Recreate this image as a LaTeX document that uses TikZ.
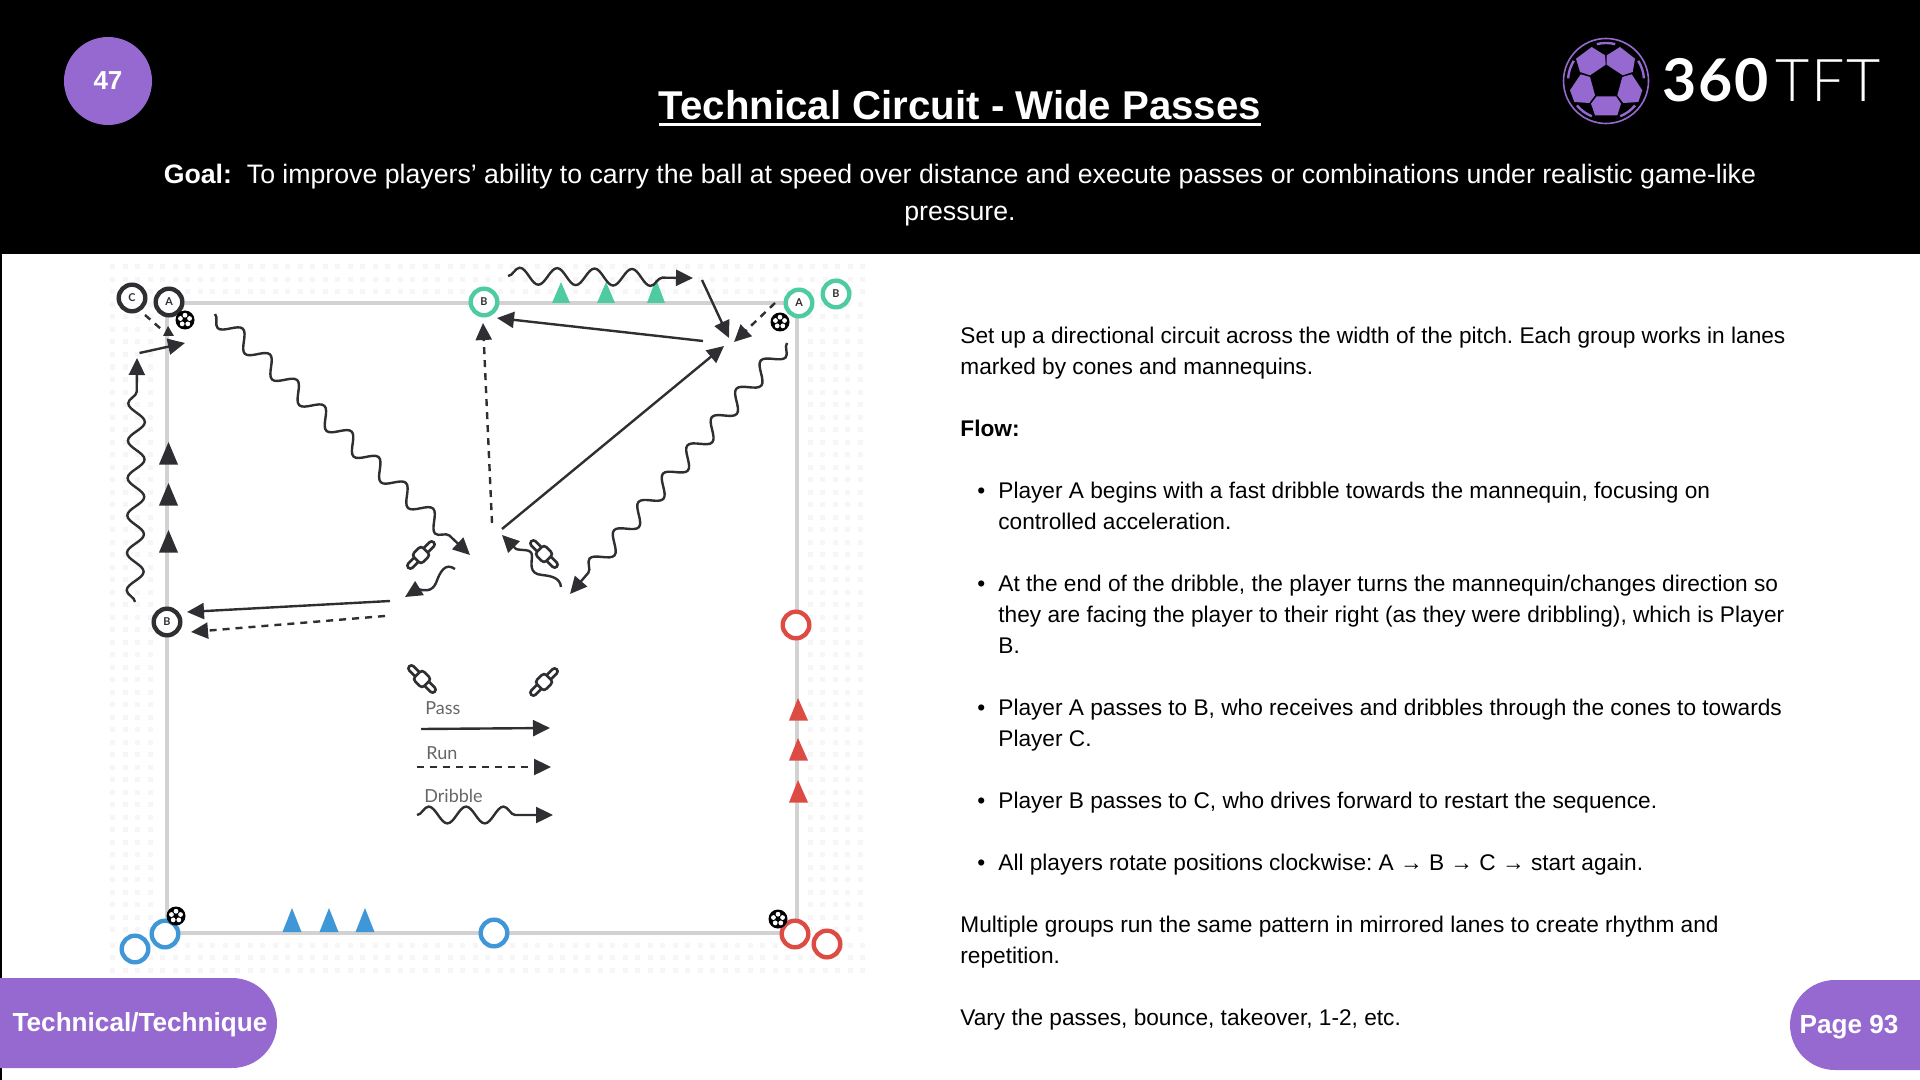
\documentclass[tikz,border=0pt]{standalone}
\usepackage{fontspec}
\setmainfont{Liberation Sans}
\newfontfamily\diagfont{Lato}
\newfontfamily\brandthin{Lato Light}
\usetikzlibrary{arrows.meta,decorations.pathmorphing,positioning}

\definecolor{ink}{HTML}{2E2E33}
\definecolor{tabpurple}{HTML}{9569CF}
\definecolor{pitchgrey}{HTML}{D2D2D2}
\definecolor{dotgrey}{HTML}{F6F6F6}
\definecolor{playgreen}{HTML}{4ECBA0}
\definecolor{playblue}{HTML}{3F97D8}
\definecolor{playred}{HTML}{DC4C43}
\definecolor{legendgrey}{HTML}{666666}

\tikzset{
    pass/.style={draw=ink, line width=1.2pt, -{Triangle[length=8.5pt,width=8pt]}},
    run/.style={pass, dash pattern=on 3.5pt off 3pt},
    dribble/.style={pass, decorate, decoration={snake, segment length=18.7pt, amplitude=4.2pt, post length=10pt}},
    player/.style={circle, draw=#1, line width=2.2pt, fill=white, minimum size=13.3pt, inner sep=0pt,
        font=\diagfont\bfseries\fontsize{5.4}{5}\selectfont, text=ink},
    body/.style={font=\frenchspacing\fontsize{11.33}{15.5}\selectfont, align=left, anchor=north west, inner sep=0pt},
    tabtext/.style={text=white, font=\bfseries\fontsize{13.07}{15}\selectfont, inner sep=0pt},
    legendtext/.style={text=legendgrey, font=\diagfont\fontsize{9}{10}\selectfont, inner sep=0pt},
    mannequin/.pic={
        \draw[ink, line width=1.3pt, fill=white, rounded corners=1.5pt] (-18,-3) rectangle (18,3);
        \draw[ink, line width=1.3pt, fill=white, rounded corners=1.6pt] (-6.5,-6.5) rectangle (6.5,6.5);
    },
    ball/.pic={
        \fill[black] (0,0) circle (9.5);
        \foreach \a in {-90,-18,54,126,198} {
            \fill[white] (\a:4.8) circle (2.4);
        }
    },
}

\begin{document}
\begin{tikzpicture}[x=0.5pt,y=-0.5pt]
    \useasboundingbox (0,0) rectangle (1920,1080);

    % header
    \fill[black] (0,0) rectangle (1920,254);
    \fill[black] (0,254) rectangle (1.5,1080);
    \node[circle, fill=tabpurple, minimum size=44pt, inner sep=0pt, text=white,
        font=\bfseries\fontsize{13}{15}\selectfont] (num) at (108,81) {\raisebox{-1pt}{47}};
    \node[text=white, font=\bfseries\fontsize{20.1}{22}\selectfont, inner sep=0pt] (title) at (960,105)
        {Technical Circuit - Wide Passes};
    \draw[white, line width=1.6pt] ([yshift=-2.4pt]title.base west) -- ([yshift=-2.4pt]title.base east);
    \node[text=white, align=center, inner sep=0pt, font=\fontsize{13.35}{18.6}\selectfont] (goal) at (960,195)
        {\textbf{Goal:}\ \ To improve players’ ability to carry the ball at speed over distance and execute passes or combinations under realistic game-like\\pressure.};

    % logo
    \begin{scope}[shift={(1606,81)}]
        \draw[tabpurple, line width=0.8pt] (0,0) circle (42.5);
        \foreach \a in {-90,-18,54,126,198} {
            \draw[tabpurple, line width=1.2pt] (\a-14:38) arc[start angle=\a-14, end angle=\a+14, radius=38];
        }
        \fill[tabpurple] (-14.3,-34) -- (-1,-25.7) -- (-0.3,-16.3) -- (-16,-5.7) -- (-26,-9) -- (-30,-22.3) -- cycle;
        \fill[tabpurple] (14,-34) -- (29,-22.3) -- (26.7,-9) -- (16.7,-5.7) -- (0.7,-16.3) -- (0.7,-25.7) -- cycle;
        \fill[tabpurple] (-25.3,-6.7) -- (-16,-4) -- (-11,14.3) -- (-16.7,22) -- (-31.7,21) -- (-36,9.3) -- cycle;
        \fill[tabpurple] (25.7,-6.7) -- (16.3,-4) -- (11.3,14.3) -- (17.3,22) -- (32.3,21) -- (36.3,9.3) -- cycle;
        \fill[tabpurple] (-9.3,15.3) -- (10,15.3) -- (15,22.7) -- (11.3,34.3) -- (-11,34.3) -- (-15,22.7) -- cycle;
    \end{scope}
    \node[text=white, inner sep=0pt, anchor=base west, font=\diagfont\bfseries\fontsize{29.5}{30}\selectfont] (brand) at (1662,102)
        {\addfontfeature{LetterSpace=3.5}360};
    \node[text=white, inner sep=0pt, anchor=base west, font=\brandthin\fontsize{29.5}{30}\selectfont] (brandb) at (1775,102)
        {\addfontfeature{LetterSpace=3}TFT};

    % tabs
    \fill[tabpurple] (0,978) -- (232,978) arc[start angle=-90, end angle=90, radius=45] -- (0,1068) -- cycle;
    \node[tabtext] (tableft) at (140,1025) {Technical/Technique};
    \fill[tabpurple] (1920,980) -- (1835,980) arc[start angle=-90, end angle=-270, radius=45] -- (1920,1070) -- cycle;
    \node[tabtext] (tabright) at (1849,1027) {Page 93};

    % dotted ground round the pitch
    \foreach \x in {112.5,125,...,865} {
        \foreach \y in {267,279.5,292,945,957.5,970} {
            \fill[dotgrey] (\x-2.5,\y-2.5) rectangle +(5,5);
        }
    }
    \foreach \y in {304.5,317,...,935} {
        \foreach \x in {112.5,125,137.5,150,810,822.5,835,847.5,860} {
            \fill[dotgrey] (\x-2.5,\y-2.5) rectangle +(5,5);
        }
    }

    % pitch
    \draw[pitchgrey, line width=1.6pt] (167,303) rectangle (797,933);

    % cones
    \foreach \y in {442,483,530} {
        \fill[ink] (168.5,\y) -- (178,\y+22.5) -- (159,\y+22.5) -- cycle;
    }
    \foreach \x/\y in {561/282,606/282,656/279} {
        \fill[playgreen] (\x,\y) -- (\x+9,303) -- (\x-9,303) -- cycle;
    }
    \foreach \y in {698,738,780} {
        \fill[playred] (798,\y) -- (808,\y+22.5) -- (789,\y+22.5) -- cycle;
    }
    \foreach \x in {292,329,365} {
        \fill[playblue] (\x,908) -- (\x+9.5,932) -- (\x-9.5,932) -- cycle;
    }

    % players
    \node[player=ink] (c1) at (132,298) {C};
    \node[player=ink] (a1) at (169,302) {A};
    \node[player=ink] (b1) at (167,622) {B};
    \node[player=playgreen] (b2) at (484,302) {B};
    \node[player=playgreen] (a2) at (799,303) {A};
    \node[player=playgreen] (b3) at (836,294) {B};
    \node[player=playred] (r1) at (796,625) {};
    \node[player=playred] (r2) at (795,934) {};
    \node[player=playred] (r3) at (827,944) {};
    \node[player=playblue] (u1) at (494,933) {};
    \node[player=playblue] (u2) at (165,934) {};
    \node[player=playblue] (u3) at (135,949) {};

    % balls
    \pic at (185,320) {ball};
    \pic at (780,322) {ball};
    \pic at (176,916) {ball};
    \pic at (778,919) {ball};

    % mannequins
    \pic[rotate=45] at (421,555) {mannequin};
    \pic[rotate=-45] at (544,554) {mannequin};
    \pic[rotate=-45] at (422,679) {mannequin};
    \pic[rotate=45] at (544,682) {mannequin};

    % ends of the movements
    \coordinate (s1) at (145,315);
    \coordinate (e1) at (161,329);
    \coordinate (s2) at (139.5,353);
    \coordinate (e2) at (185,343);
    \coordinate (s3) at (135,602);
    \coordinate (e3) at (137,358);
    \coordinate (s4) at (215,314);
    \coordinate (e4) at (470,555);
    \coordinate (s5) at (455,569);
    \coordinate (e5) at (405,597);
    \coordinate (s6) at (390,601);
    \coordinate (e6) at (187,612);
    \coordinate (s7) at (385,616);
    \coordinate (e7) at (191,632);
    \coordinate (s8) at (508,276);
    \coordinate (e8) at (693,278);
    \coordinate (s9) at (702,280);
    \coordinate (e9) at (729,338);
    \coordinate (s10) at (775,303);
    \coordinate (e10) at (734,342);
    \coordinate (s11) at (703,341);
    \coordinate (e11) at (497,318);
    \coordinate (s12) at (492,523);
    \coordinate (e12) at (483,323);
    \coordinate (s13) at (502,529);
    \coordinate (e13) at (724,346);
    \coordinate (s14) at (787,343);
    \coordinate (e14) at (570,594);
    \coordinate (s15) at (561,587);
    \coordinate (e15) at (502,535);

    % movements
    \draw[ink, line width=1.2pt, dash pattern=on 3.5pt off 3pt] (s1) -- (e1);
    \fill[ink] (168,326) -- (174,336) -- (163,336) -- cycle;
    \draw[pass] (s2) -- (e2);
    \draw[dribble] (s3) -- (e3);
    \draw[dribble, decoration={mirror}] (s4) -- (e4);
    \draw[pass] (s5) .. controls (445,562) and (440,572) .. (436,583) .. controls (432,592) and (424,591) .. (418,589) -- (e5);
    \draw[pass] (s6) -- (e6);
    \draw[run] (s7) -- (e7);
    \draw[dribble] (s8) -- (e8);
    \draw[pass] (s9) -- (e9);
    \draw[run] (s10) -- (e10);
    \draw[pass] (s11) -- (e11);
    \draw[run] (s12) -- (e12);
    \draw[pass] (s13) -- (e13);
    \draw[dribble] (s14) -- (e14);
    \draw[pass] (s15) .. controls (560,578) and (552,576) .. (542,575) .. controls (528,574) and (532,562) .. (532,556) .. controls (532,548) and (522,551) .. (516,549) -- (e15);

    % legend
    \node[legendtext, anchor=west] (lpass) at (425,708) {Pass};
    \node[legendtext, anchor=west] (lrun) at (426,753) {Run};
    \node[legendtext, anchor=west] (ldribble) at (424,796) {Dribble};
    \coordinate (ps) at (421,729);
    \coordinate (pe) at (550,728);
    \coordinate (rs) at (417,767);
    \coordinate (re) at (551,767);
    \coordinate (ds) at (417,815);
    \coordinate (de) at (553,815);
    \draw[pass] (ps) -- (pe);
    \draw[run] (rs) -- (re);
    \draw[dribble] (ds) -- (de);

    % text on the right
    \node[body] (p1) at (960,321) {\strut Set up a directional circuit across the width of the pitch. Each group works in lanes\\marked by cones and mannequins.};
    \node[body] (p2) at (960,414) {\strut\textbf{Flow:}};
    \node[body] (p3) at (998,476) {\strut Player A begins with a fast dribble towards the mannequin, focusing on\\controlled acceleration.};
    \node[body] (p4) at (998,569) {\strut At the end of the dribble, the player turns the mannequin/changes direction so\\they are facing the player to their right (as they were dribbling), which is Player\\B.};
    \node[body] (p5) at (998,693) {\strut Player A passes to B, who receives and dribbles through the cones to towards\\Player C.};
    \node[body] (p6) at (998,786) {\strut Player B passes to C, who drives forward to restart the sequence.};
    \node[body] (p7) at (998,848) {\strut All players rotate positions clockwise: A → B → C → start again.};
    \node[body] (p8) at (960,910) {\strut Multiple groups run the same pattern in mirrored lanes to create rhythm and\\repetition.};
    \node[body] (p9) at (960,1003.5) {\strut Vary the passes, bounce, takeover, 1-2, etc.};
    \foreach \y in {476,569,693,786,848} {
        \node[body] (dot\y) at (977,\y) {\strut •};
    }
\end{tikzpicture}
\end{document}
